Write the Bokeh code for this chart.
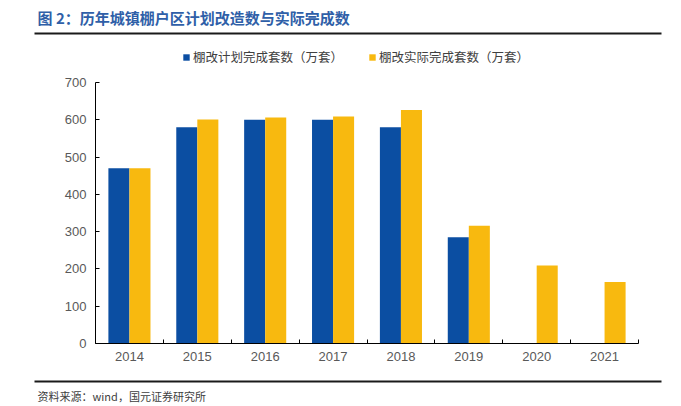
from bokeh.plotting import figure
from bokeh.models import (ColumnDataSource, Legend, LegendItem, FixedTicker, Range1d,
                          Label, BoxAnnotation, LinearAxis)
from bokeh.embed import file_html
from bokeh.resources import INLINE
from bokeh.transform import dodge

# ---- data ----
years = ["2014", "2015", "2016", "2017", "2018", "2019", "2020", "2021"]
planned = [470, 580, 600, 600, 580, 285, None, None]
actual = [470, 601, 606, 609, 626, 316, 209, 165]
y_ticks = [0, 100, 200, 300, 400, 500, 600, 700]
title_text = "图 2：历年城镇棚户区计划改造数与实际完成数"
legend_labels = ["棚改计划完成套数（万套）", "棚改实际完成套数（万套）"]
source_text = "资料来源：wind，国元证券研究所"

BLUE = "#0B4EA2"
YELLOW = "#F8B90F"
CJK = "Noto Sans CJK SC"
LAT = "Liberation Sans"

W, H = 681, 406
# plot area (pixels) inside the canvas
PX0, PX1, PY0, PY1 = 95, 638, 82, 343
YMAX = 700
NX = len(years)


def dx(px):  # canvas pixel x -> data x
    return (px - PX0) / (PX1 - PX0) * NX


def dy(py):  # canvas pixel y (from top) -> data y
    return (PY1 - py) / (PY1 - PY0) * YMAX


xs = [i + 0.5 for i in range(NX)]
plan_src = ColumnDataSource(dict(x=[x for x, v in zip(xs, planned) if v is not None],
                                 top=[v for v in planned if v is not None]))
act_src = ColumnDataSource(dict(x=xs, top=actual))

p = figure(width=W, height=H, x_range=Range1d(dx(0), dx(W)), y_range=Range1d(dy(H), dy(0)),
           output_backend="svg", toolbar_location=None, min_border=0,
           x_axis_location=None, y_axis_location=None, outline_line_color=None)
p.grid.visible = False

r1 = p.vbar(x=dodge("x", -0.155), top="top", width=0.31, source=plan_src,
            fill_color=BLUE, line_color=None)
r2 = p.vbar(x=dodge("x", 0.155), top="top", width=0.31, source=act_src,
            fill_color=YELLOW, line_color=None)

xa = LinearAxis(fixed_location=0, bounds=(0, NX))
xa.ticker = FixedTicker(ticks=xs, minor_ticks=list(range(NX + 1)))
xa.major_label_overrides = {x: y for x, y in zip(xs, years)}
xa.major_tick_in = 0
xa.major_tick_out = 0
xa.minor_tick_in = 4
xa.minor_tick_out = 0
xa.minor_tick_line_color = "#000000"
xa.axis_line_color = "#000000"
xa.major_label_text_font = LAT
xa.major_label_text_font_size = "13px"
xa.major_label_text_color = "#595959"
xa.major_label_standoff = 8
p.add_layout(xa, "below")

ya = LinearAxis(fixed_location=0, bounds=(0, YMAX))
ya.ticker = FixedTicker(ticks=y_ticks)
ya.major_tick_in = 4
ya.major_tick_out = 0
ya.minor_tick_line_color = None
ya.major_tick_line_color = "#000000"
ya.axis_line_color = "#000000"
ya.major_label_text_font = LAT
ya.major_label_text_font_size = "13px"
ya.major_label_text_color = "#595959"
ya.major_label_standoff = 9
p.add_layout(ya, "left")

legend = Legend(items=[LegendItem(label=legend_labels[0], renderers=[r1]),
                       LegendItem(label=legend_labels[1], renderers=[r2])],
                orientation="horizontal", location=(182, H - 66),
                border_line_color=None, background_fill_alpha=0,
                label_text_font=CJK, label_text_font_size="12.5px", label_text_color="#404040",
                glyph_width=8, glyph_height=8, spacing=25, label_standoff=3,
                padding=0, margin=0)
p.add_layout(legend, "center")

# title, rules and source text
p.add_layout(Label(x=dx(37), y=dy(17), text=title_text, text_font=CJK, text_font_size="15px",
                   text_font_style="bold", text_color="#2F5FA8", text_baseline="middle"))
p.add_layout(BoxAnnotation(left=dx(34), right=dx(661), top=dy(32), bottom=dy(34),
                           fill_color="#1a1a1a", fill_alpha=1, line_color=None))
p.add_layout(BoxAnnotation(left=dx(34), right=dx(661), top=dy(380), bottom=dy(382),
                           fill_color="#1a1a1a", fill_alpha=1, line_color=None))
p.add_layout(Label(x=dx(37), y=dy(395), text=source_text, text_font=CJK, text_font_size="11px",
                   text_color="#404040", text_baseline="middle"))

open("out.html", "w").write(file_html(p, INLINE))
